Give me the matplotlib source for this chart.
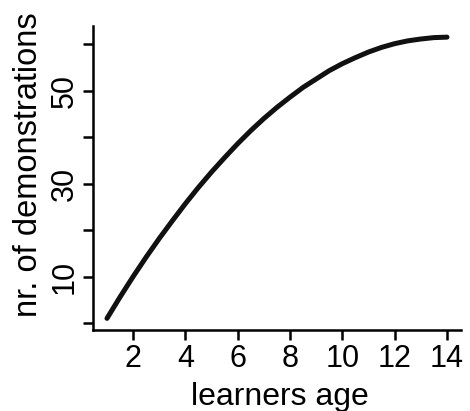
import matplotlib
matplotlib.use("Agg")
import matplotlib.pyplot as plt

plt.rcParams['font.family'] = ['Liberation Sans', 'DejaVu Sans']

age = [1, 1.5, 2, 2.5, 3, 3.5, 4, 4.5, 5, 5.5, 6, 6.5, 7, 7.5, 8, 8.5, 9, 9.5,
       10, 10.5, 11, 11.5, 12, 12.5, 13, 13.5, 14]
demos = [1.0, 5.6, 10.0, 14.2, 18.2, 22.0, 25.7, 29.2, 32.5, 35.6, 38.6, 41.4, 44.0,
         46.4, 48.6, 50.7, 52.5, 54.3, 55.8, 57.1, 58.3, 59.3, 60.1, 60.7, 61.1, 61.4, 61.5]

xticks = [2, 4, 6, 8, 10, 12, 14]
yticks = [0, 10, 20, 30, 40, 50, 60]
ytick_labels = ['', '10', '', '30', '', '50', '']

fig = plt.figure(figsize=(4.70, 4.11), dpi=100)
ax = fig.add_axes([0.1987, 0.198, 0.7813, 0.739])
ax.plot(age, demos, color='#111111', lw=3.6, solid_capstyle='round')
ax.set_xlim(0.48, 14.52)
ax.set_ylim(-1.42, 63.92)
ax.set_xticks(xticks)
ax.set_xticklabels([str(t) for t in xticks])
ax.set_yticks(yticks)
ax.set_yticklabels(ytick_labels, rotation=90, va='center')
for s in ['top', 'right']:
    ax.spines[s].set_visible(False)
for s in ['left', 'bottom']:
    ax.spines[s].set_linewidth(1.8)
ax.tick_params(axis='both', length=7, width=1.8, labelsize=22, pad=3)
ax.set_xlabel('learners age', fontsize=23)
ax.set_ylabel('nr. of demonstrations', fontsize=23.5)
ax.xaxis.set_label_coords(0.507, -0.172)
ax.yaxis.set_label_coords(-0.1345, 0.542)
fig.savefig('out.png', dpi=100)
